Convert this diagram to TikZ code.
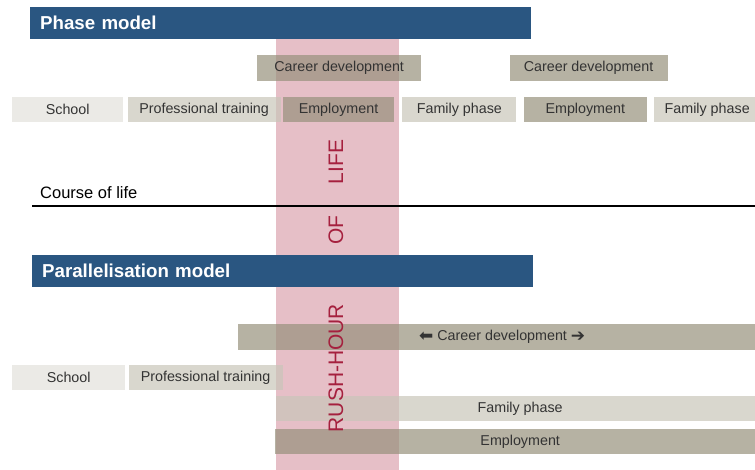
\documentclass[tikz,border=0pt]{standalone}
\usepackage{fontspec}
\setmainfont{Liberation Sans}
\newfontfamily\arrowfont{DejaVu Sans}
\usepackage{xcolor}
\usetikzlibrary{positioning}

\definecolor{barblue}{RGB}{42,86,129}
\definecolor{rushpink}{RGB}{230,191,199}
\definecolor{rushred}{RGB}{165,32,62}
\definecolor{phasedark}{RGB}{151,145,124}
\definecolor{phasemid}{RGB}{201,198,185}
\definecolor{phaselight}{RGB}{226,225,219}

\begin{document}
\begin{tikzpicture}[x=1pt, y=-1pt,
  phase/.style={anchor=north west, inner sep=0pt, minimum height=25pt,
    fill opacity=0.7, text opacity=1, text=black!80,
    font=\fontsize{14.3}{16}\selectfont},
  dark/.style={phase, fill=phasedark},
  mid/.style={phase, fill=phasemid},
  light/.style={phase, fill=phaselight},
  model/.style={anchor=north west, fill=barblue, text=white, inner xsep=10pt,
    inner ysep=0pt, minimum height=32pt, text width=481pt, align=left,
    font=\fontsize{18.7}{20}\selectfont\bfseries},
  rush/.style={rotate=90, inner sep=0pt, text=rushred,
    font=\fontsize{21}{22}\selectfont}]

  \useasboundingbox (0,0) rectangle (755,470);

  % rush-hour band behind everything
  \fill[rushpink] (276,39) rectangle (399,470);

  % phase model
  \node[dark, minimum width=164pt, minimum height=26pt] (car1) at (257,55) {Career development};
  \node[dark, minimum width=158pt, minimum height=26pt] (car2) [right=88pt of car1] {Career development};

  \node[light, minimum width=111pt] (school1) at (12,97) {School};
  \node[mid, minimum width=153pt] (train1) [right=4pt of school1] {Professional training};
  \node[dark, minimum width=111pt] (emp1) [right=2pt of train1] {Employment};
  \node[mid, minimum width=114pt] (fam1) [right=8pt of emp1] {Family phase};
  \node[dark, minimum width=123pt] (emp2) [right=7pt of fam1] {Employment};
  \node[mid, minimum width=106pt] (fam2) [right=7pt of emp2] {Family phase};

  % parallelisation model
  \node[dark, minimum width=528pt, minimum height=26pt] (carlong) at (238,324)
    {{\arrowfont\fontsize{17}{18}\selectfont\raisebox{-0.5pt}{⬅}} Career development {\arrowfont\fontsize{17}{18}\selectfont\raisebox{-0.5pt}{➔}}};

  \node[light, minimum width=113pt] (school2) at (12,365) {School};
  \node[mid, minimum width=154pt] (train2) [right=3pt of school2] {Professional training};

  \node[mid, minimum width=488pt] (famlong) at (276,396) {Family phase};
  \node[dark, minimum width=490pt] (emplong) at (275,429) {Employment};

  \node[model] (phasebar) at (30,7) {Phase model};
  \node[model] (parabar) at (32,255) {Parallelisation model};

  % course of life
  \node[anchor=west, inner sep=0pt, font=\fontsize{16.5}{18}\selectfont] (course) at (40,193) {Course of life};
  \coordinate (lifestart) at (32,206);
  \coordinate (lifeend) at (760,206);
  \draw[line width=2pt] (lifestart) -- (lifeend);

  \node[rush] (life) at (336,162) {LIFE};
  \node[rush] (of) at (336,230) {OF};
  \node[rush] (rush) at (336,368) {RUSH-HOUR};

\end{tikzpicture}
\end{document}
